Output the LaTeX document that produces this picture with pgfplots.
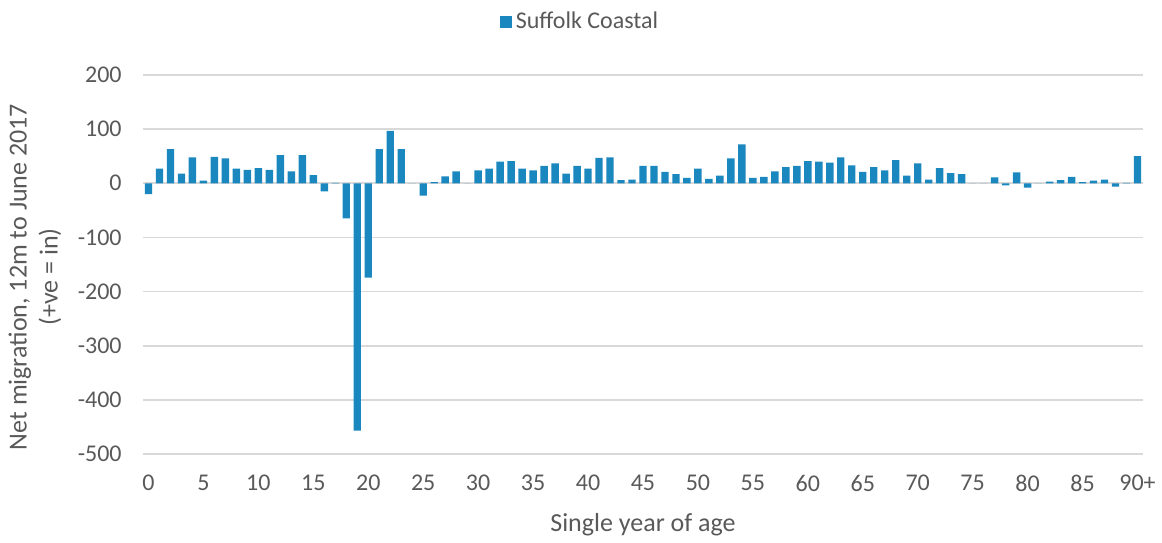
\documentclass[border=0pt]{standalone}
\usepackage{fontspec}
\setmainfont{Carlito}
\usepackage{pgfplots}
\pgfplotsset{compat=1.18}
\definecolor{barblue}{RGB}{27,135,191}
\definecolor{txtgray}{RGB}{89,89,89}
\definecolor{gridgray}{RGB}{217,217,217}
\begin{document}
\begin{tikzpicture}
\begin{axis}[
    scale only axis,
    width=500pt, height=189.5pt,
    ymin=-500, ymax=200,
    xmin=-0.5, xmax=90.5,
    ybar, bar width=3.7pt,
    ytick={-500,-400,...,200},
    xtick={0,5,...,90},
    xticklabels={0,5,10,15,20,25,30,35,40,45,50,55,60,65,70,75,80,85,90+},
    ymajorgrids,
    grid style={gridgray, line width=0.8pt},
    axis line style={draw=none},
    major tick length=0pt,
    /pgf/number format/assume math mode=true,
    tick label style={font=\fontsize{12}{14}\selectfont, text=txtgray, inner sep=0pt},
    yticklabel style={anchor=east, xshift=-10.5pt},
    xticklabel style={anchor=center, yshift=-14.5pt},
    xlabel={Single year of age},
    ylabel={Net migration, 12m to June 2017\\(+ve = in)},
    label style={font=\fontsize{13}{15.5}\selectfont, text=txtgray},
    xlabel style={at={(axis description cs:0.5,0)}, anchor=center, yshift=-35.5pt},
    ylabel style={at={(axis description cs:-0.108,0.467)}, anchor=center, align=center},
    legend style={draw=none, fill=none, at={(axis description cs:0.438,1)}, anchor=center, yshift=26.5pt,
        font=\fontsize{12}{14}\selectfont, text=txtgray, inner sep=0pt},
    legend image code/.code={\fill[barblue] (0pt,-3pt) rectangle (6pt,3pt);},
    clip=false,
]
\addplot[fill=barblue, draw=none] coordinates {
(0,-20) (1,27) (2,63) (3,18) (4,48) (5,5) (6,49) (7,46) (8,27) (9,25)
(10,28) (11,25) (12,52) (13,22) (14,52) (15,15) (16,-15) (17,1) (18,-65) (19,-457)
(20,-174) (21,63) (22,97) (23,63) (24,0) (25,-23) (26,2) (27,13) (28,22) (29,0)
(30,24) (31,27) (32,40) (33,41) (34,27) (35,24) (36,32) (37,37) (38,18) (39,32)
(40,27) (41,47) (42,48) (43,6) (44,7) (45,32) (46,32) (47,21) (48,17) (49,10)
(50,27) (51,8) (52,14) (53,46) (54,72) (55,10) (56,12) (57,22) (58,30) (59,32)
(60,41) (61,40) (62,38) (63,48) (64,33) (65,21) (66,30) (67,24) (68,43) (69,14)
(70,37) (71,7) (72,28) (73,19) (74,17) (75,0) (76,0) (77,11) (78,-4) (79,20)
(80,-8) (81,0) (82,3) (83,6) (84,12) (85,2) (86,5) (87,7) (88,-6) (89,1)
(90,50)
};
\legend{Suffolk Coastal}
\coordinate (ll) at (rel axis cs:0,0);
\end{axis}
\path (ll) ++(-71.5pt,-42pt) coordinate (a) ++(581pt,269pt) coordinate (b);
\path (a) rectangle (b);
\end{tikzpicture}
\end{document}
